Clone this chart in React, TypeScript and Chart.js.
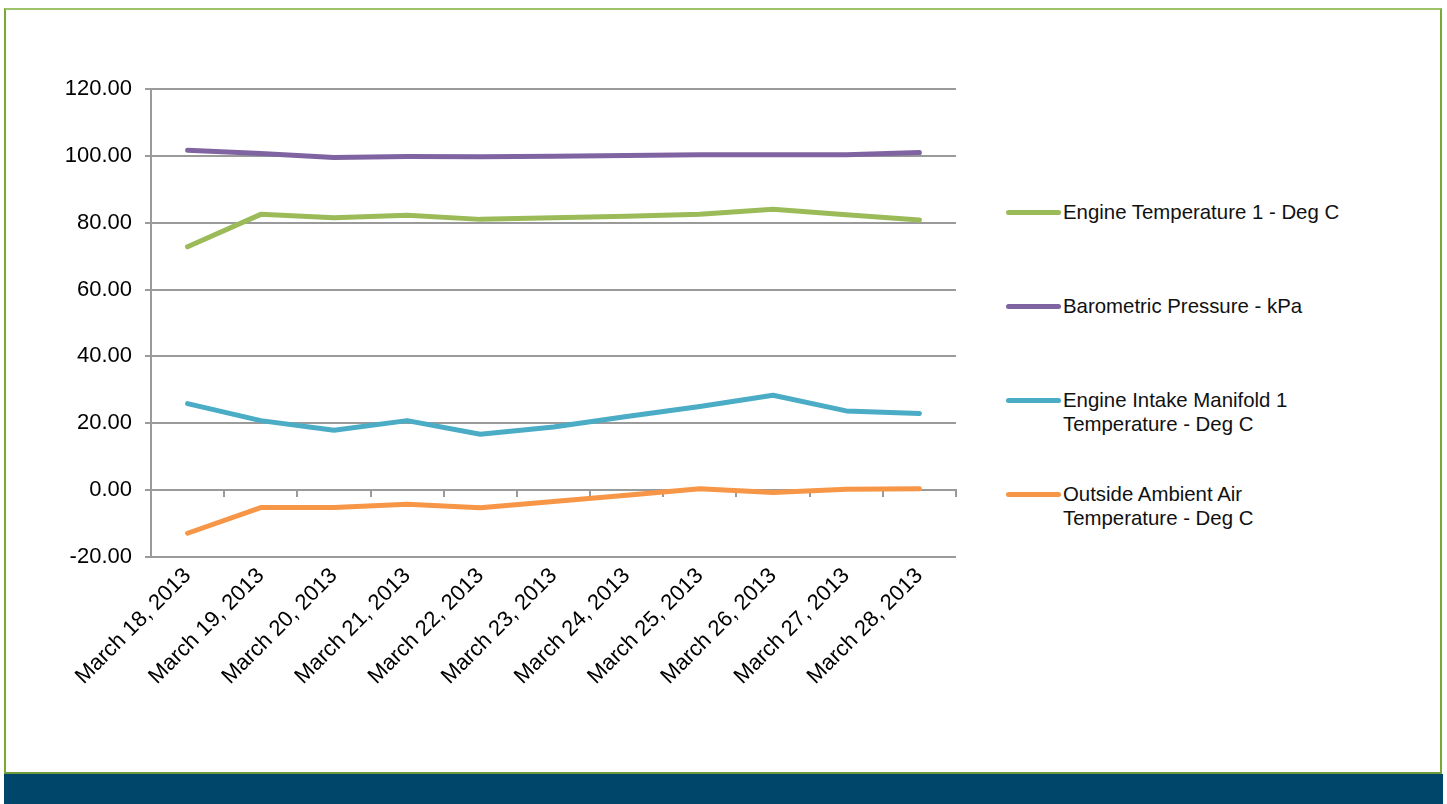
import React, { useEffect, useRef } from "react";
import { Chart, registerables } from "chart.js";

Chart.register(...registerables);

const categories = [
  "March 18, 2013",
  "March 19, 2013",
  "March 20, 2013",
  "March 21, 2013",
  "March 22, 2013",
  "March 23, 2013",
  "March 24, 2013",
  "March 25, 2013",
  "March 26, 2013",
  "March 27, 2013",
  "March 28, 2013",
];

const engineTemp = [72.8, 82.5, 81.5, 82.2, 81.0, 81.5, 81.9, 82.5, 84.0, 82.4, 80.8];
const baroPressure = [101.7, 100.7, 99.5, 99.8, 99.7, 99.9, 100.1, 100.3, 100.3, 100.3, 101.0];
const intakeTemp = [25.9, 20.8, 17.9, 20.8, 16.7, 18.9, 22.0, 25.0, 28.4, 23.7, 22.9];
const ambientTemp = [-12.9, -5.2, -5.2, -4.2, -5.3, -3.4, -1.5, 0.4, -0.7, 0.3, 0.4];

const seriesNames = [
  "Engine Temperature 1 - Deg C",
  "Barometric Pressure - kPa",
  "Engine Intake Manifold 1 Temperature - Deg C",
  "Outside Ambient Air Temperature - Deg C",
];
const seriesColors = ["#9BBB59", "#8064A2", "#4BACC6", "#F79646"];
const seriesValues = [engineTemp, baroPressure, intakeTemp, ambientTemp];

const yMin = -20;
const yMax = 120;
const yStep = 20;

const FONT = "'Liberation Sans', Arial, sans-serif";
const GRID = "#9a9a9a";

const legendTops = [212, 306, 400, 494];

export default function App() {
  const canvasRef = useRef<HTMLCanvasElement | null>(null);

  useEffect(() => {
    if (!canvasRef.current) return;
    const chart = new Chart(canvasRef.current, {
      type: "line",
      data: {
        labels: categories,
        datasets: seriesNames.map((name, i) => ({
          label: name,
          data: seriesValues[i],
          borderColor: seriesColors[i],
          backgroundColor: seriesColors[i],
          borderWidth: 5,
          borderCapStyle: "round" as const,
          borderJoinStyle: "round" as const,
          pointRadius: 0,
          pointHoverRadius: 0,
          tension: 0,
          fill: false,
        })),
      },
      options: {
        responsive: false,
        animation: false,
        devicePixelRatio: 1,
        layout: { padding: { left: 0, top: 89, right: 44, bottom: 0 } },
        plugins: {
          legend: { display: false },
          tooltip: { enabled: false },
        },
        scales: {
          x: {
            type: "category",
            offset: true,
            grid: { display: false, drawTicks: false },
            border: { display: false },
            ticks: {
              minRotation: 45,
              maxRotation: 45,
              autoSkip: false,
              padding: 6,
              color: "#000",
              font: { family: FONT, size: 22 },
            },
            afterFit: (scale: any) => {
              scale.height = 203;
            },
          },
          x2: {
            type: "category",
            position: { y: 0 } as any,
            offset: true,
            grid: {
              offset: true,
              drawOnChartArea: false,
              drawTicks: true,
              tickLength: 6,
              color: GRID,
              lineWidth: 2,
            },
            border: { display: true, color: GRID, width: 2 },
            ticks: { display: false },
          },
          y: {
            min: yMin,
            max: yMax,
            ticks: {
              stepSize: yStep,
              padding: 13,
              color: "#000",
              font: { family: FONT, size: 22 },
              callback: (v: any) => Number(v).toFixed(2),
            },
            grid: { color: GRID, lineWidth: 2, tickLength: 6, drawTicks: true },
            border: { display: true, color: GRID, width: 2 },
            afterFit: (scale: any) => {
              scale.width = 151;
            },
          },
        },
      },
    });
    return () => chart.destroy();
  }, []);

  return (
    <div
      style={{
        position: "absolute",
        left: 0,
        top: 0,
        width: 1447,
        height: 804,
        overflow: "hidden",
        background: "#fff",
        fontFamily: FONT,
      }}
    >
      <div
        style={{
          position: "absolute",
          left: 4,
          top: 8,
          width: 1438,
          height: 766,
          boxSizing: "border-box",
          borderLeft: "2px solid #78A934",
          borderRight: "2px solid #78A934",
          borderTop: "2px solid #9CC36B",
          borderBottom: "2px solid #6E9A3A",
        }}
      />
      <div
        style={{
          position: "absolute",
          left: 4,
          top: 774,
          width: 1439,
          height: 30,
          background: "#00466A",
        }}
      />
      <canvas
        ref={canvasRef}
        width={1000}
        height={760}
        style={{ position: "absolute", left: 0, top: 0, width: 1000, height: 760 }}
      />
      {seriesNames.map((name, i) => (
        <div
          key={name}
          style={{
            position: "absolute",
            left: 1006,
            top: legendTops[i] - 12,
            display: "flex",
            alignItems: "flex-start",
          }}
        >
          <div
            style={{
              width: 55,
              height: 5,
              borderRadius: 3,
              background: seriesColors[i],
              marginTop: 10,
              flex: "none",
            }}
          />
          <div
            style={{
              marginLeft: 2,
              width: 290,
              fontSize: 20.4,
              lineHeight: "24px",
              color: "#111",
            }}
          >
            {name}
          </div>
        </div>
      ))}
    </div>
  );
}
